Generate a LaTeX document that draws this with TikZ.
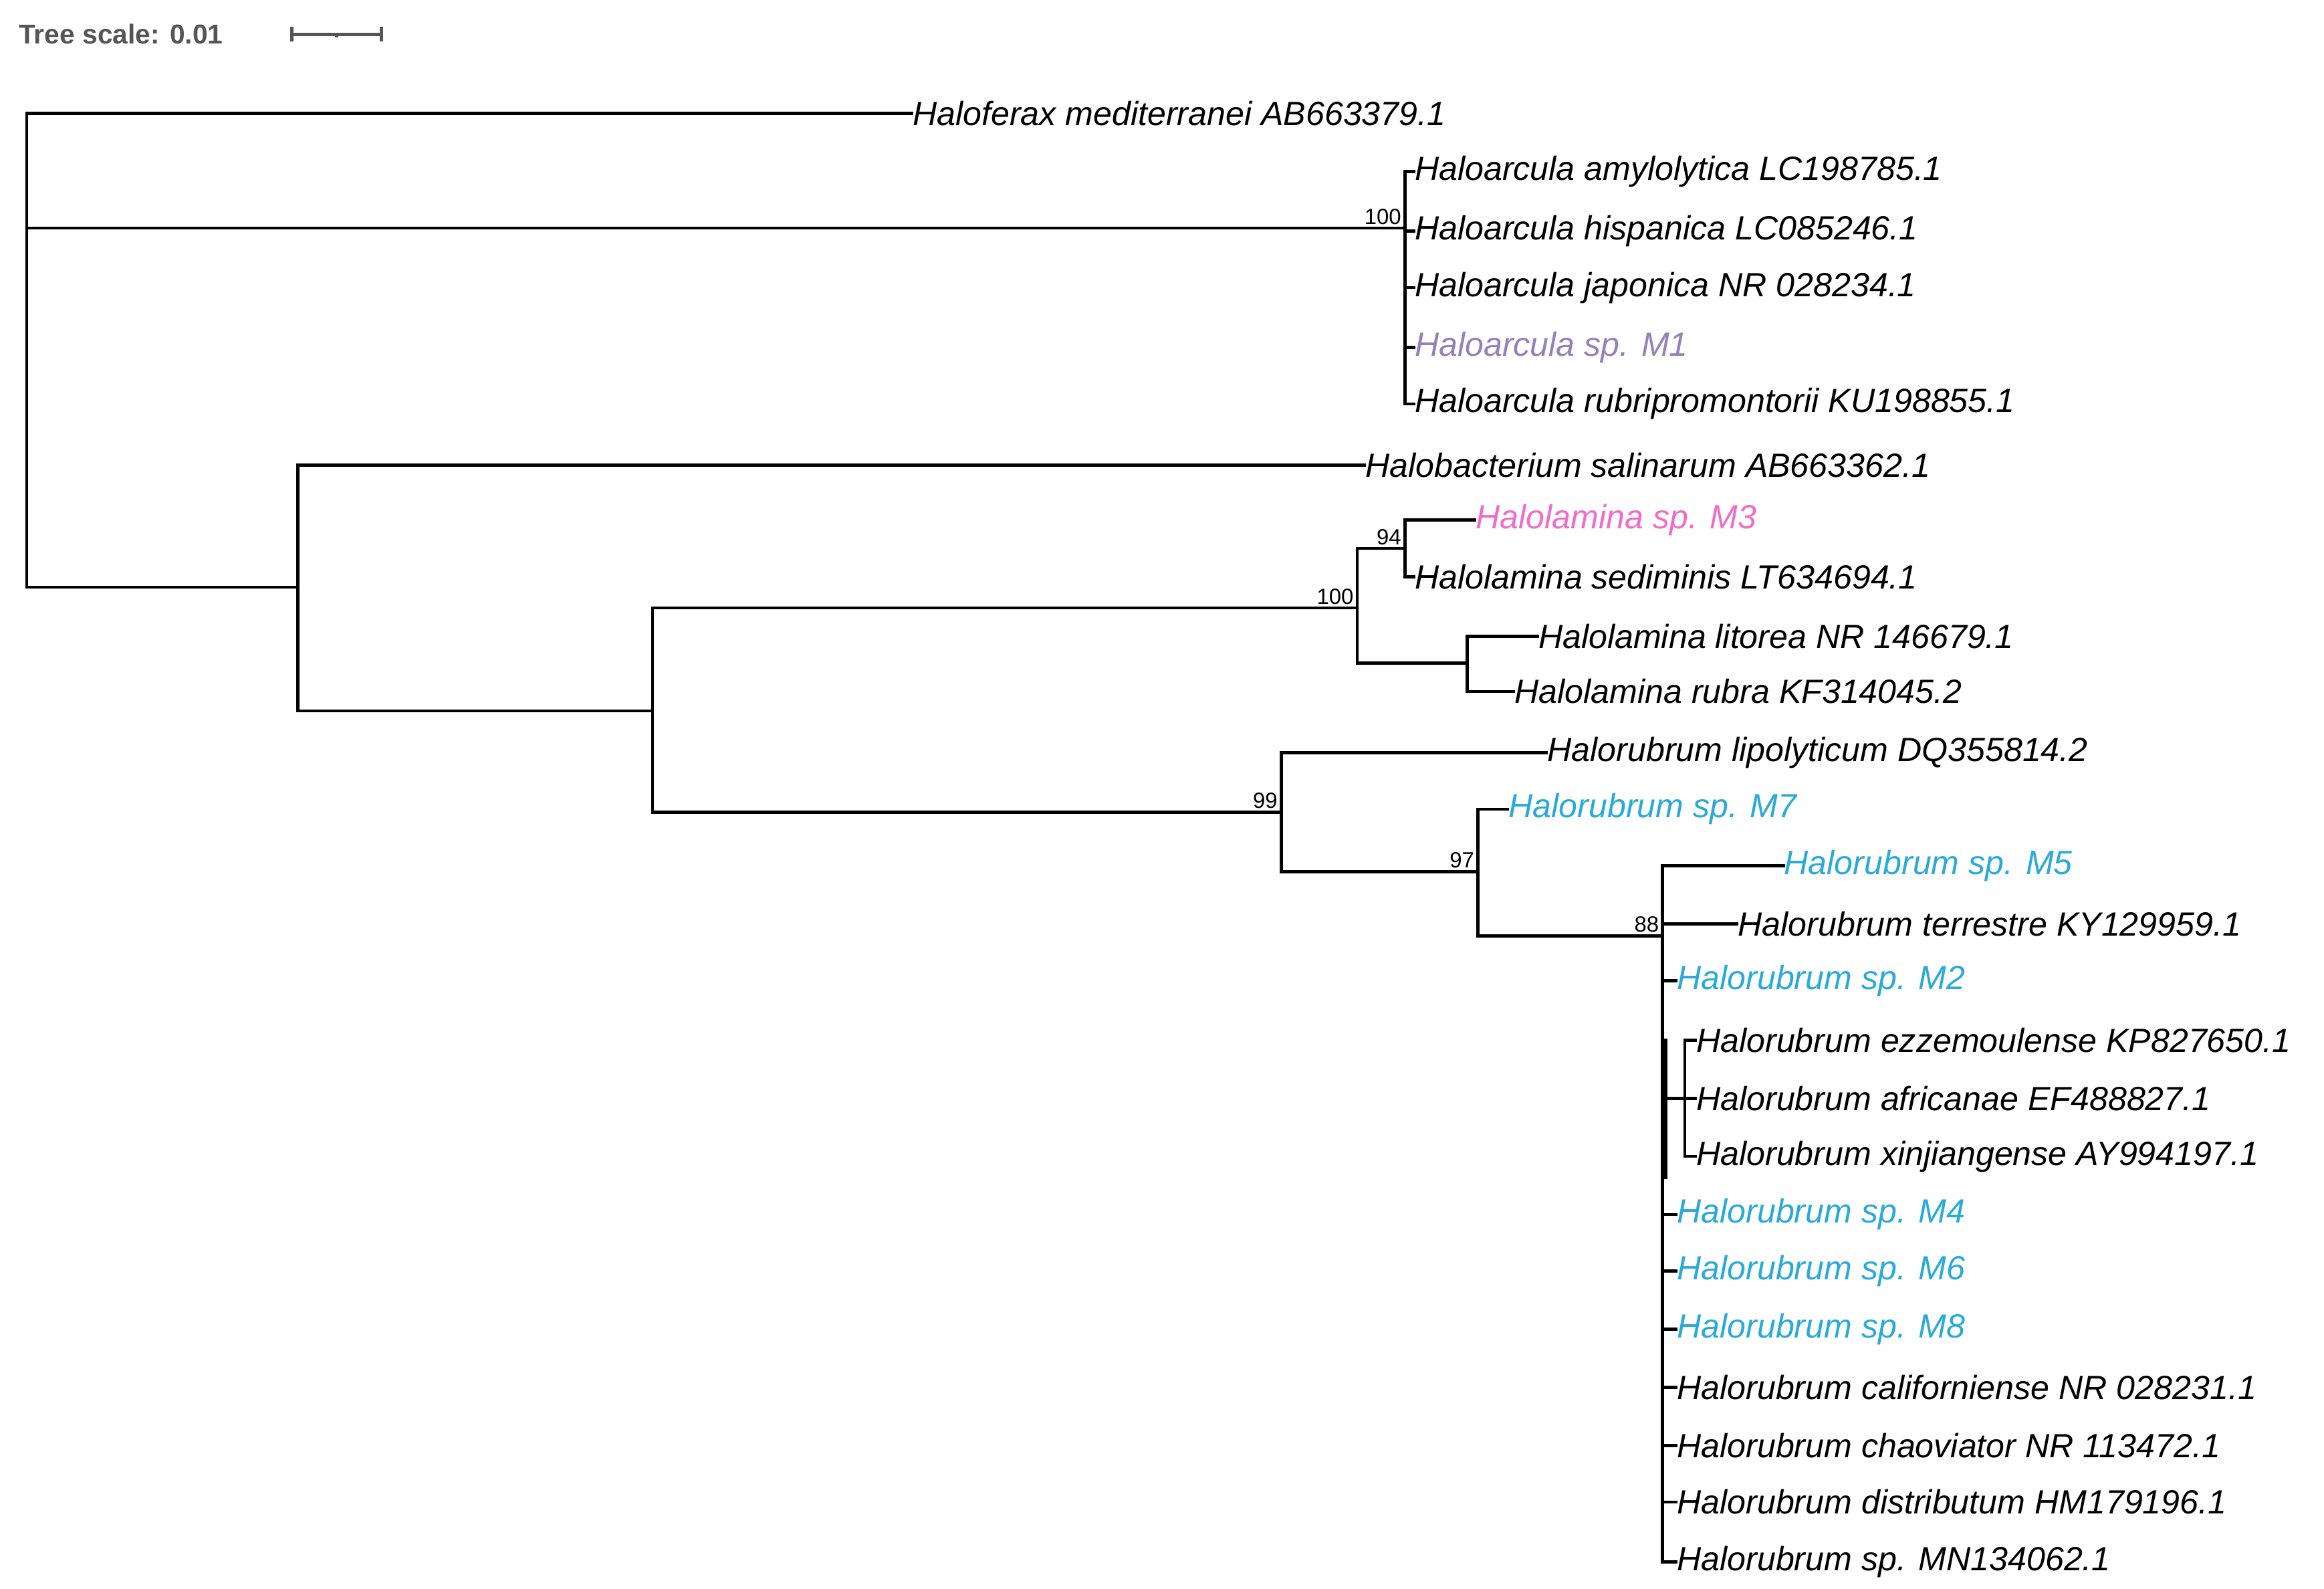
\documentclass[tikz,border=0pt]{standalone}
\usepackage{fontspec}
\setmainfont{Liberation Sans}
\usetikzlibrary{positioning, calc}
\definecolor{isocyan}{HTML}{2AAAD8}
\definecolor{isopink}{HTML}{F06CC8}
\definecolor{isopurple}{HTML}{9580B8}
\definecolor{scalegray}{HTML}{555555}
\tikzset{
	branch/.style = {line width=0.6pt, line cap=rect},
	leaf/.style = {anchor=west, inner sep=0pt, font=\fontsize{6.4}{7}\selectfont\itshape},
	boot/.style = {anchor=south east, inner sep=0.5pt, font=\fontsize{4.2}{5}\selectfont},
}

\begin{document}
\begin{tikzpicture}[x=0.01cm, y=-0.01cm]
	\useasboundingbox (0,0) rectangle (1560,1066);
	
	% Scale bar
	\node[anchor=west, inner sep=0pt, text=scalegray, font=\fontsize{5.2}{6}\selectfont\bfseries] (scl) at (12,23) {Tree scale: 0.01};
	\coordinate (sa) at (196,23);
	\coordinate (sb) at (256,23);
	\draw[scalegray, line width=0.6pt] (sa) -- (sb);
	\draw[scalegray, line width=0.6pt] ($(sa)+(0,-5)$) -- ($(sa)+(0,5)$);
	\draw[scalegray, line width=0.6pt] ($(sb)+(0,-5)$) -- ($(sb)+(0,5)$);
	\draw[scalegray, line width=0.6pt] ($(sa)!0.5!(sb)$) -- ++(0,2);
	
	% Internal nodes
	\coordinate (root) at (18,394);
	\coordinate (arc) at (943,153);
	\coordinate (hb) at (200,394);
	\coordinate (hlr) at (438,477);
	\coordinate (lam) at (911,408);
	\coordinate (lamA) at (943,368);
	\coordinate (lamB) at (985,445);
	\coordinate (rub) at (860,545);
	\coordinate (rubA) at (992,585);
	\coordinate (rubB) at (1116,628);
	\coordinate (rubC) at (1131,737);
	
	% Leaves
	\node[leaf] (hfx) at (612,76) {Haloferax mediterranei AB663379.1};
	\node[leaf] (amy) at (949,115) {Haloarcula amylolytica LC198785.1};
	\node[leaf] (his) at (949,155) {Haloarcula hispanica LC085246.1};
	\node[leaf] (jap) at (949,193) {Haloarcula japonica NR 028234.1};
	\node[leaf, text=isopurple] (m1) at (949,233) {Haloarcula sp. M1};
	\node[leaf] (rbp) at (949,271) {Haloarcula rubripromontorii KU198855.1};
	\node[leaf] (sal) at (916,312) {Halobacterium salinarum AB663362.1};
	\node[leaf, text=isopink] (m3) at (990,349) {Halolamina sp. M3};
	\node[leaf] (sed) at (949,387) {Halolamina sediminis LT634694.1};
	\node[leaf] (lit) at (1032,427) {Halolamina litorea NR 146679.1};
	\node[leaf] (rbr) at (1016,464) {Halolamina rubra KF314045.2};
	\node[leaf] (lip) at (1038,505) {Halorubrum lipolyticum DQ355814.2};
	\node[leaf, text=isocyan] (m7) at (1012,543) {Halorubrum sp. M7};
	\node[leaf, text=isocyan] (m5) at (1197,581) {Halorubrum sp. M5};
	\node[leaf] (ter) at (1166,620) {Halorubrum terrestre KY129959.1};
	\node[leaf, text=isocyan] (m2) at (1125,658) {Halorubrum sp. M2};
	\node[leaf] (ezz) at (1138,698) {Halorubrum ezzemoulense KP827650.1};
	\node[leaf] (afr) at (1138,737) {Halorubrum africanae EF488827.1};
	\node[leaf] (xin) at (1138,776) {Halorubrum xinjiangense AY994197.1};
	\node[leaf, text=isocyan] (m4) at (1125,815) {Halorubrum sp. M4};
	\node[leaf, text=isocyan] (m6) at (1125,853) {Halorubrum sp. M6};
	\node[leaf, text=isocyan] (m8) at (1125,892) {Halorubrum sp. M8};
	\node[leaf] (cal) at (1125,931) {Halorubrum californiense NR 028231.1};
	\node[leaf] (cha) at (1125,970) {Halorubrum chaoviator NR 113472.1};
	\node[leaf] (dis) at (1125,1008) {Halorubrum distributum HM179196.1};
	\node[leaf] (mn) at (1125,1048) {Halorubrum sp. MN134062.1};
	
	% Bootstrap values
	\node[boot] (b1) at (arc) {100};
	\node[boot] (b2) at (lam) {100};
	\node[boot] (b3) at (lamA) {94};
	\node[boot] (b4) at (rub) {99};
	\node[boot] (b5) at (rubA) {97};
	\node[boot] (b6) at (rubB) {88};
	
	% Branches
	\draw[branch] (hfx.west) -| (root) (root) |- (arc);
	\draw[branch] (arc |- amy) -- (arc |- rbp);
	\foreach \l in {amy, his, jap, m1, rbp} \draw[branch] (arc |- \l) -- (\l.west);
	\draw[branch] (root) -- (hb);
	\draw[branch] (sal.west) -| (hb) |- (hlr);
	\draw[branch] (lam) -| (hlr) |- (rub);
	\draw[branch] (lamA) -| (lam) |- (lamB);
	\draw[branch] (m3.west) -| (lamA) |- (sed.west);
	\draw[branch] (lit.west) -| (lamB) |- (rbr.west);
	\draw[branch] (lip.west) -| (rub) |- (rubA);
	\draw[branch] (m7.west) -| (rubA) |- (rubB);
	\draw[branch] (m5.west) -| (rubB) -- (rubB |- mn);
	\draw[branch] (rubB |- ter) -- (ter.west);
	\draw[branch] (rubB |- afr) -- (rubC);
	\draw[branch] (rubC |- ezz) -- (rubC |- xin);
	\draw[branch] ($(rubB |- ezz)+(2,0)$) -- ($(rubB |- xin)+(2,14)$);
	\foreach \l in {ezz, afr, xin} \draw[branch] (rubC |- \l) -- (\l.west);
	\foreach \l in {m2, m4, m6, m8, cal, cha, dis, mn} \draw[branch] (rubB |- \l) -- (\l.west);
\end{tikzpicture}
\end{document}
